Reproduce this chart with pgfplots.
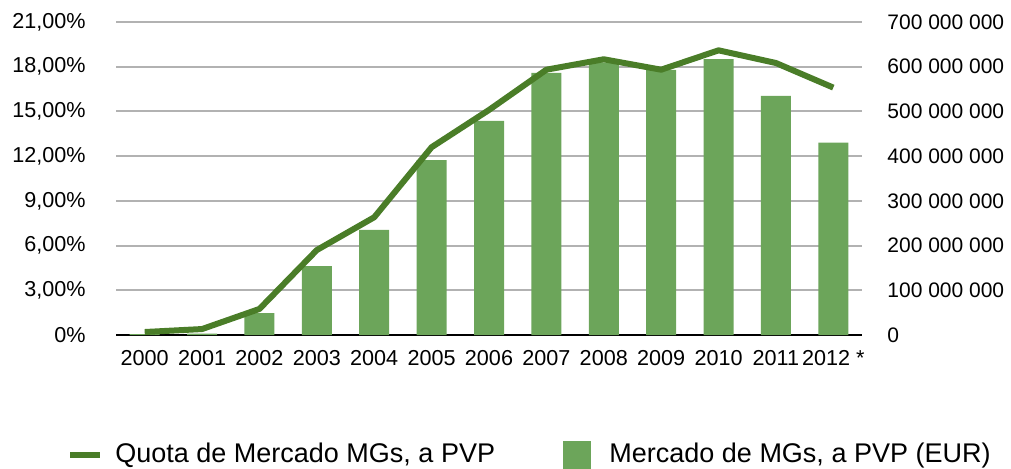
\documentclass[border=0pt]{standalone}
\usepackage{fontspec}
\setmainfont{Liberation Sans}
\usepackage{pgfplots}
\pgfplotsset{compat=1.18}
\definecolor{linegreen}{RGB}{74,125,40}
\definecolor{bargreen}{RGB}{108,165,90}
\definecolor{gridgray}{RGB}{178,178,178}
\begin{document}
\begin{tikzpicture}
\path[use as bounding box] (0,0) rectangle (505.5pt,234pt);
\pgfplotsset{
  common/.style={
    scale only axis, width=373pt, height=156.5pt,
    at={(58pt,66.5pt)}, anchor=south west,
    xmin=-0.5, xmax=12.5,
    major tick length=0pt,
    tick label style={font=\fontsize{10.8}{13}\selectfont},
  }
}
% bars (right axis)
\begin{axis}[common,
  ymin=0, ymax=700000000,
  axis x line=bottom, axis y line=right,
  x axis line style={black, line width=1pt, -},
  y axis line style={draw=none},
  xtick={0,...,12},
  xticklabels={2000,2001,2002,2003,2004,2005,2006,2007,2008,2009,2010,2011,2012 *},
  xticklabel style={inner ysep=0pt, yshift=-7.5pt},
  ytick={0,100000000,200000000,300000000,400000000,500000000,600000000,700000000},
  yticklabels={0,100 000 000,200 000 000,300 000 000,400 000 000,500 000 000,600 000 000,700 000 000},
  yticklabel style={inner xsep=0pt, xshift=12.5pt, font=\fontsize{10.5}{13}\selectfont},
  ymajorgrids, grid style={gridgray, line width=1pt},
]
\addplot[ybar, bar width=15pt, fill=bargreen, draw=none] coordinates {
(0,2000000) (1,3000000) (2,49000000) (3,154000000) (4,235000000) (5,391000000)
(6,479000000) (7,586000000) (8,610000000) (9,593000000) (10,617000000)
(11,535000000) (12,430000000)};
\end{axis}
% line (left axis)
\begin{axis}[common,
  ymin=0, ymax=21,
  axis x line=none, axis y line=left,
  y axis line style={draw=none},
  ytick={0,3,...,21},
  yticklabels={0\%,{3,00\%},{6,00\%},{9,00\%},{12,00\%},{15,00\%},{18,00\%},{21,00\%}},
  yticklabel style={inner xsep=0pt, xshift=-15pt},
  legend columns=2,
  legend style={draw=none, fill=none, inner sep=0pt,
    font=\fontsize{13.5}{16}\selectfont,
    at={(-0.0657,-0.382)}, anchor=west,
    /tikz/every odd column/.append style={column sep=4pt},
    /tikz/every even column/.append style={column sep=32pt}},
  legend cell align=left,
]
\addplot[linegreen, line width=3pt, line join=round,
  legend image code/.code={\draw[linegreen, line width=3pt] (0pt,0pt) -- (15pt,0pt);}]
  coordinates {
(0,0.2) (1,0.4) (2,1.75) (3,5.7) (4,7.9) (5,12.6) (6,15.1) (7,17.8)
(8,18.5) (9,17.8) (10,19.1) (11,18.25) (12,16.6)};
\addlegendentry{Quota de Mercado MGs, a PVP}
\addlegendimage{legend image code/.code={\fill[bargreen] (0pt,-6.75pt) rectangle (13.5pt,6.75pt); \path[draw=none,fill=none] (0pt,0pt) -- (17pt,0pt);}}
\addlegendentry{Mercado de MGs, a PVP (EUR)}
\end{axis}
\end{tikzpicture}
\end{document}
